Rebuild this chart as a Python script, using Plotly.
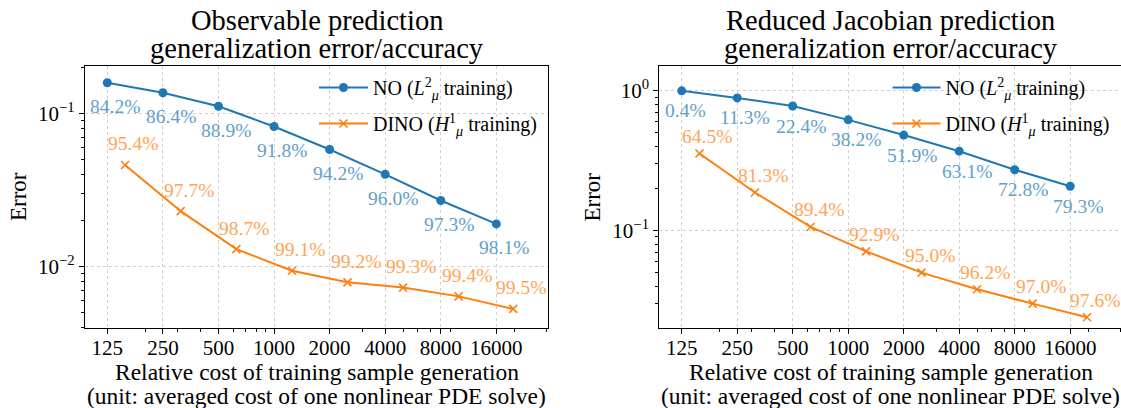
import math
import plotly.graph_objects as go

# ---------------- data ----------------
no_cost = [125, 250, 500, 1000, 2000, 4000, 8000, 16000]
dino_cost = [156, 312, 625, 1250, 2500, 5000, 10000, 19750]

obs_no_err = [0.158, 0.136, 0.111, 0.082, 0.058, 0.040, 0.027, 0.019]
obs_dino_err = [0.046, 0.023, 0.013, 0.0094, 0.0079, 0.0073, 0.0064, 0.0053]
obs_no_acc = ["84.2%", "86.4%", "88.9%", "91.8%", "94.2%", "96.0%", "97.3%", "98.1%"]
obs_dino_acc = ["95.4%", "97.7%", "98.7%", "99.1%", "99.2%", "99.3%", "99.4%", "99.5%"]

jac_no_err = [0.996, 0.887, 0.776, 0.618, 0.481, 0.369, 0.272, 0.207]
jac_dino_err = [0.355, 0.187, 0.106, 0.071, 0.050, 0.038, 0.030, 0.024]
jac_no_acc = ["0.4%", "11.3%", "22.4%", "38.2%", "51.9%", "63.1%", "72.8%", "79.3%"]
jac_dino_acc = ["64.5%", "81.3%", "89.4%", "92.9%", "95.0%", "96.2%", "97.0%", "97.6%"]

x_tickvals = [125, 250, 500, 1000, 2000, 4000, 8000, 16000]
x_ticktext = ["125", "250", "500", "1000", "2000", "4000", "8000", "16000"]
x_minor = [200, 300, 400, 500, 600, 700, 800, 900, 2000, 3000, 4000, 5000,
           6000, 7000, 8000, 9000, 20000, 30000]

obs_y_tickvals = [0.01, 0.1]
obs_y_ticktext = ["10<sup>−2</sup>", "10<sup>−1</sup>"]
obs_y_minor = [0.004, 0.005, 0.006, 0.007, 0.008, 0.009,
               0.02, 0.03, 0.04, 0.05, 0.06, 0.07, 0.08, 0.09, 0.2]
jac_y_tickvals = [0.1, 1.0]
jac_y_ticktext = ["10<sup>−1</sup>", "10<sup>0</sup>"]
jac_y_minor = [0.02, 0.03, 0.04, 0.05, 0.06, 0.07, 0.08, 0.09,
               0.2, 0.3, 0.4, 0.5, 0.6, 0.7, 0.8, 0.9]

titles = [["Observable prediction", "generalization error/accuracy"],
          ["Reduced Jacobian prediction", "generalization error/accuracy"]]
xlabel = ["Relative cost of training sample generation",
          "(unit: averaged cost of one nonlinear PDE solve)"]
no_name = "NO (<i>L</i><sup>2</sup><sub><i>μ</i></sub> training)"
dino_name = "DINO (<i>H</i><sup>1</sup><sub><i>μ</i></sub> training)"

# ---------------- style ----------------
FONT = "Liberation Serif, Tinos, DejaVu Serif, serif"
BLUE = "#1f77b4"
ORANGE = "#ff7f0e"
BLUE_T = "#62a0ca"
ORANGE_T = "#ffa556"
W, H = 1121, 408

dom_x = [[85 / W, 548 / W], [659.3 / W, 1.0]]
dom_y = [1 - 328 / H, 1 - 66 / H]
x_ranges = [[1.976, 4.484], [1.9754, 4.4796]]
y_ranges = [[-2.400, -0.692], [-1.697, 0.176]]
centers = [(85 + 548) / 2 / W, (659.3 + 1122) / 2 / W]

fig = go.Figure()

panels = [
    (obs_no_err, obs_dino_err, obs_no_acc, obs_dino_acc, "x", "y", "legend", -24, 21),
    (jac_no_err, jac_dino_err, jac_no_acc, jac_dino_acc, "x2", "y2", "legend2", -20, 17),
]

annotations = []
for i, (ne, de, na, da, xa, ya, lg, no_shift, dino_shift) in enumerate(panels):
    fig.add_trace(go.Scatter(
        x=no_cost, y=ne, mode="lines+markers", name=no_name,
        line=dict(color=BLUE, width=2), marker=dict(symbol="circle", size=9, color=BLUE),
        xaxis=xa, yaxis=ya, legend=lg, legendgroup=f"no{i}"))
    fig.add_trace(go.Scatter(
        x=dino_cost, y=de, mode="lines+markers", name=dino_name,
        line=dict(color=ORANGE, width=2),
        marker=dict(symbol="x-thin", size=8, color=ORANGE, line=dict(width=1.6, color=ORANGE)),
        xaxis=xa, yaxis=ya, legend=lg, legendgroup=f"dino{i}"))
    # annotations on log axes are positioned in log10 units
    for xv, yv, t in zip(no_cost, ne, na):
        annotations.append(dict(x=math.log10(xv), y=math.log10(yv), xref=xa, yref=ya, text=t,
                                showarrow=False, xanchor="left", yanchor="middle",
                                xshift=-19, yshift=no_shift,
                                font=dict(family=FONT, size=19.5, color=BLUE_T)))
    for xv, yv, t in zip(dino_cost, de, da):
        annotations.append(dict(x=math.log10(xv), y=math.log10(yv), xref=xa, yref=ya, text=t,
                                showarrow=False, xanchor="left", yanchor="middle",
                                xshift=-19, yshift=dino_shift,
                                font=dict(family=FONT, size=19.5, color=ORANGE_T)))
    cx = centers[i]
    for txt, ypx, fs in [(titles[i][0], 20, 28.5), (titles[i][1], 48.5, 28.5),
                         (xlabel[0], 372, 23.5), (xlabel[1], 396, 23.5)]:
        annotations.append(dict(x=cx, y=1 - ypx / H, xref="paper", yref="paper", text=txt,
                                showarrow=False, xanchor="center", yanchor="middle",
                                font=dict(family=FONT, size=fs, color="black")))
    ex = [18 / W, 591.5 / W][i]
    annotations.append(dict(x=ex, y=1 - 197 / H, xref="paper", yref="paper", text="Error",
                            showarrow=False, xanchor="center", yanchor="middle", textangle=-90,
                            font=dict(family=FONT, size=23, color="black")))

y_tv = [obs_y_tickvals, jac_y_tickvals]
y_tt = [obs_y_ticktext, jac_y_ticktext]
y_mn = [obs_y_minor, jac_y_minor]
for i in range(2):
    sx = "" if i == 0 else "2"
    fig.update_layout(**{
        f"xaxis{sx}": dict(
            type="log", domain=dom_x[i], range=x_ranges[i], anchor=f"y{sx}",
            tickmode="array", tickvals=x_tickvals, ticktext=x_ticktext,
            ticks="outside", ticklen=5, tickwidth=1, tickcolor="black",
            ticklabelstandoff=-4,
            showline=True, linecolor="black", linewidth=1.2, mirror=True,
            showgrid=True, gridcolor="#cfcfcf", griddash="dot", gridwidth=1,
            zeroline=False, automargin=False,
            tickfont=dict(family=FONT, size=21, color="black"),
            minor=dict(tickmode="array", tickvals=x_minor, ticks="outside", ticklen=3,
                       tickwidth=1, tickcolor="black", showgrid=False),
        ),
        f"yaxis{sx}": dict(
            type="log", domain=dom_y, range=y_ranges[i], anchor=f"x{sx}",
            tickmode="array", tickvals=y_tv[i], ticktext=y_tt[i],
            ticks="outside", ticklen=5, tickwidth=1, tickcolor="black",
            showline=True, linecolor="black", linewidth=1.2, mirror=(i == 0),
            showgrid=True, gridcolor="#cfcfcf", griddash="dot", gridwidth=1,
            zeroline=False, automargin=False,
            tickfont=dict(family=FONT, size=21, color="black"),
            minor=dict(tickmode="array", tickvals=y_mn[i], ticks="outside", ticklen=3,
                       tickwidth=1, tickcolor="black", showgrid=False),
        ),
    })

legend_style = dict(bgcolor="rgba(255,255,255,0)", borderwidth=0,
                    font=dict(family=FONT, size=20, color="black"),
                    xanchor="left", yanchor="top", tracegroupgap=7)
fig.update_layout(
    width=W, height=H, margin=dict(l=0, r=0, t=0, b=0),
    paper_bgcolor="white", plot_bgcolor="white",
    showlegend=True,
    legend=dict(x=314 / W, y=1 - 68 / H, itemwidth=49, **legend_style),
    legend2=dict(x=887.5 / W, y=1 - 68 / H, itemwidth=48, **legend_style),
    annotations=annotations,
    font=dict(family=FONT),
)

fig.write_html("out.html", config={"displayModeBar": False},
               post_script="document.body.style.margin='0';")
